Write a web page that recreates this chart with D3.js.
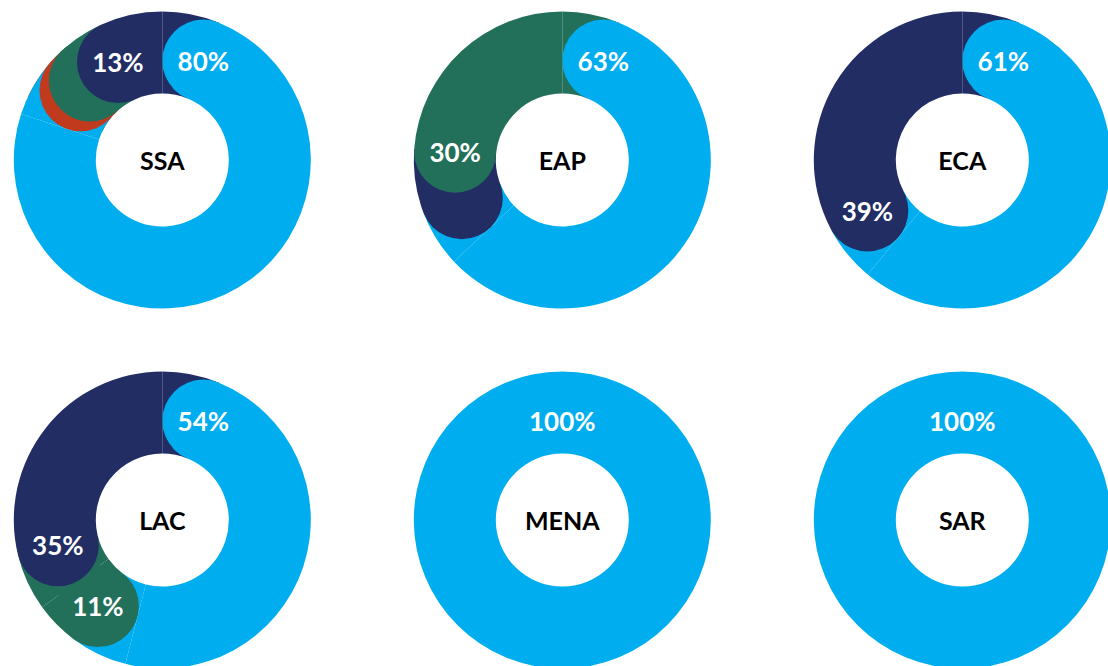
<!DOCTYPE html>
<html>
<head>
<meta charset="utf-8">
<script src="https://cdn.jsdelivr.net/npm/d3@7"></script>
<style>
  html, body { margin: 0; padding: 0; background: #ffffff; }
  svg { display: block; }
</style>
</head>
<body>
<svg id="chart" width="1108" height="666"></svg>
<script>
// Regions, one donut each
const regions = ["SSA", "EAP", "ECA", "LAC", "MENA", "SAR"];

// Share of each region, in drawing order (clockwise from 12 o'clock)
const ssaShares  = [80, 2, 5, 13];
const eapShares  = [63, 7, 30];
const ecaShares  = [61, 39];
const lacShares  = [54, 11, 35];
const menaShares = [100];
const sarShares  = [100];

// Colour key of each slice, matching the share arrays above
const ssaKeys  = ["blue", "red", "green", "navy"];
const eapKeys  = ["blue", "navy", "green"];
const ecaKeys  = ["blue", "navy"];
const lacKeys  = ["blue", "green", "navy"];
const menaKeys = ["blue"];
const sarKeys  = ["blue"];

const sharesByRegion = [ssaShares, eapShares, ecaShares, lacShares, menaShares, sarShares];
const keysByRegion   = [ssaKeys, eapKeys, ecaKeys, lacKeys, menaKeys, sarKeys];

const palette = {
  blue:  "#00aeef",
  navy:  "#222d64",
  green: "#23705a",
  red:   "#c13a1e"
};

// Layout
const width = 1108, height = 666;
const outerR = 148.5, innerR = 66.5;
const midR = (outerR + innerR) / 2;
const capR = (outerR - innerR) / 2;
const capAngle = Math.asin(capR / midR);   // angular half-width of a rounded cap
const colX = [162.3, 562.3, 962.3];
const rowY = [160, 520];
const labelMin = 10;                       // smaller slices carry no label

const svg = d3.select("#chart");

const pie = d3.pie().sort(null).value(d => d.value);
const flatArc = d3.arc().innerRadius(innerR).outerRadius(outerR);

// A slice body: a round cap at its start plus a square-cut run to its end
function bodyPath(a) {
  const capMid = a.startAngle + capAngle;
  const p = d3.path();
  const cx = midR * Math.sin(capMid), cy = -midR * Math.cos(capMid);
  p.moveTo(cx + capR, cy);
  p.arc(cx, cy, capR, 0, 2 * Math.PI);
  p.closePath();
  let d = p.toString();
  if (a.endAngle > capMid) {
    d += flatArc({ startAngle: capMid, endAngle: a.endAngle });
  }
  return d;
}

regions.forEach((name, i) => {
  const values = sharesByRegion[i];
  const keys = keysByRegion[i];
  const data = values.map((v, j) => ({ value: v, key: keys[j] }));
  const arcs = pie(data);

  const g = svg.append("g")
    .attr("transform", `translate(${colX[i % 3]},${rowY[Math.floor(i / 3)]})`);

  if (arcs.length === 1) {
    g.append("path")
      .attr("d", flatArc(arcs[0]))
      .attr("fill", palette[arcs[0].data.key]);
  } else {
    // tails run on under the next slice's rounded start;
    // earlier slices' tails lie over later ones
    g.append("g").selectAll("path")
      .data(arcs.slice().reverse())
      .join("path")
      .attr("d", a => flatArc({ startAngle: a.endAngle, endAngle: a.endAngle + capAngle }))
      .attr("fill", a => palette[a.data.key]);

    g.append("g").selectAll("path")
      .data(arcs)
      .join("path")
      .attr("d", bodyPath)
      .attr("fill", a => palette[a.data.key]);
  }

  // percentage labels sit in each slice's rounded cap
  g.append("g").selectAll("text")
    .data(arcs.filter(a => a.data.value >= labelMin))
    .join("text")
    .attr("x", a => arcs.length === 1 ? 0 : midR * Math.sin(a.startAngle + capAngle))
    .attr("y", a => -midR * Math.cos(a.startAngle + capAngle) + 1)
    .attr("dy", "0.35em")
    .attr("text-anchor", "middle")
    .attr("fill", "#ffffff")
    .style("font-family", "Lato, 'Noto Sans', sans-serif")
    .style("font-weight", 700)
    .style("font-size", "26px")
    .text(a => a.data.value + "%");

  g.append("text")
    .attr("x", 0)
    .attr("y", 1)
    .attr("dy", "0.35em")
    .attr("text-anchor", "middle")
    .attr("fill", "#000000")
    .style("font-family", "Lato, 'Noto Sans', sans-serif")
    .style("font-weight", 700)
    .style("font-size", "25px")
    .text(name);
});
</script>
</body>
</html>
